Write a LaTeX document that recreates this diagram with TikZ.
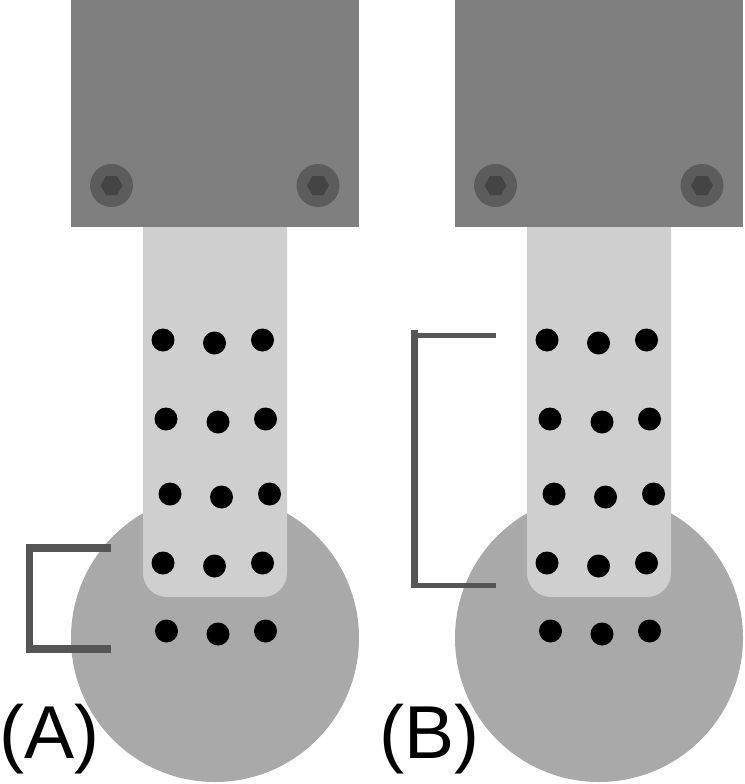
\documentclass[tikz,border=0pt]{standalone}
\usepackage{fontspec}
\setmainfont{Liberation Sans}
\definecolor{blockgray}{HTML}{7F7F7F}
\definecolor{stripgray}{HTML}{CFCFCF}
\definecolor{discgray}{HTML}{A9A9A9}
\definecolor{screwgray}{HTML}{5C5C5C}
\definecolor{hexgray}{HTML}{444444}
\definecolor{bracketgray}{HTML}{555555}
\tikzset{
  dotmark/.style={fill=black,draw=none},
  bracketline/.style={draw=bracketgray,line width=7.5pt,line cap=butt,line join=miter},
  panellabel/.style={inner sep=0pt,anchor=base west,font=\fontsize{75}{75}\selectfont},
  pics/rig/.style={code={
    \fill[discgray] (215,638) circle (144);
    \fill[stripgray,rounded corners=24] (143,200) -- (143,597) -- (287,597) -- (287,200) -- cycle;
    \fill[blockgray] (71,0) rectangle (359,227);
    \foreach \sx in {111.5,318}{
      \fill[screwgray] (\sx,185.5) circle (21.5);
      \fill[hexgray] (\sx-11,185.5) -- (\sx-5.5,176) -- (\sx+5.5,176) -- (\sx+11,185.5) -- (\sx+5.5,195) -- (\sx-5.5,195) -- cycle;
    }
    \foreach \px/\py in {163/340,214.5/343,262.5/340,166/419,218/422,265.5/419,170/494,221.5/497,269.5/494,163/563,214.5/566,262.5/563,166.5/631,218/634,265.5/631}{
      \fill[dotmark] (\px,\py) circle (11.5);
    }
  }}
}
\begin{document}
\begin{tikzpicture}[x=1pt,y=-1pt]
\useasboundingbox (0,0) rectangle (744,784);
\fill[white] (0,0) rectangle (744,784);
\pic at (0,0) {rig};
\pic at (384,0) {rig};
\draw[bracketline] (111,548) -- (29.5,548) -- (29.5,649) -- (111,649);
\draw[bracketline,line width=6.5pt] (414.3,330) -- (414.3,588);
\draw[bracketline,line width=5pt] (414.3,335.3) -- (496,335.3);
\draw[bracketline,line width=5pt] (414.3,585.3) -- (496,585.3);
\node[panellabel] (labelA) at (-1,758) {(A)};
\node[panellabel] (labelB) at (379,758) {(B)};
\end{tikzpicture}
\end{document}
